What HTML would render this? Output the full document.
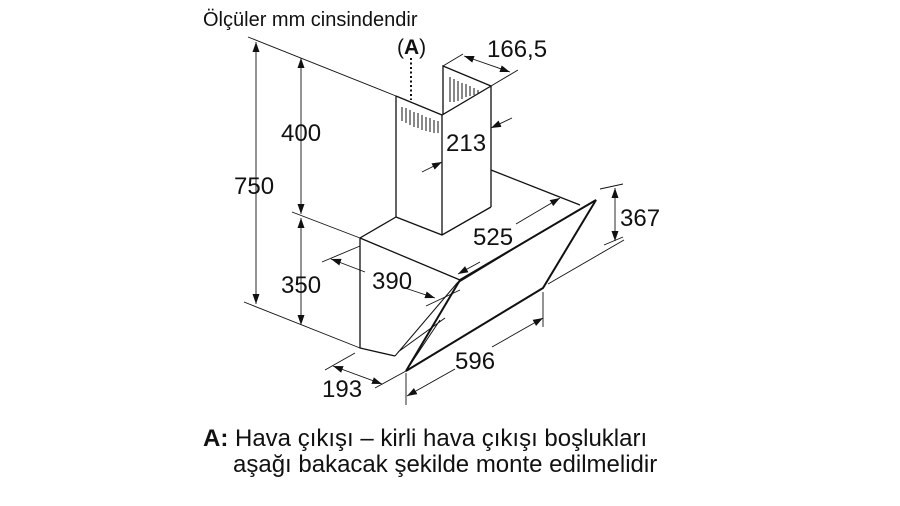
<!DOCTYPE html>
<html><head><meta charset="utf-8"><style>
html,body{margin:0;padding:0;background:#fff;width:900px;height:506px;overflow:hidden}
svg{display:block}
text{font-family:"Liberation Sans",Arial,sans-serif;fill:#111}
</style></head><body>
<svg width="900" height="506" viewBox="0 0 900 506" xmlns="http://www.w3.org/2000/svg">
<defs>
<marker id="a" viewBox="0 0 10 10" refX="10" refY="5" markerWidth="10" markerHeight="10" orient="auto-start-reverse" markerUnits="userSpaceOnUse"><path d="M0,1.5 L10,5 L0,8.5 z" fill="#111"/></marker>
</defs>
<text x="203" y="26" font-size="20">Ölçüler mm cinsindendir</text>

<g stroke="#111" fill="none" stroke-width="1.3">
<path d="M396,96 L396,217 M442,115 L442,235 M491,86 L491,207 M396,96 L442,115 L491,86 L443,66 L443,115 M396,217 L442,235 L491,207"/>
<path d="M396,217 L360,238 L360,348 L395,356 M360,238 L460,280 M491,170 L580,205"/>
<path d="M460,280 L596,200 L543,288 L406,371 Z" stroke-width="2"/>
<path d="M456,284 L578,210 M395,356 L458,282 M398,352 L445,318 M406,371 L440,320" stroke-width="1"/>
</g>
<g stroke="#111" stroke-width="1">
<path d="M402,107v14 M406,108v15 M410,110v15 M414,112v15 M418,113v15 M422,115v15 M426,117v14 M430,118v14 M434,120v13 M438,121v12"/>
<path d="M450,77v25 M454,79v23 M458,81v20 M462,83v16 M466,84v13 M470,86v10 M474,88v7 M478,90v4"/>
</g>
<path d="M411,58 L411,100" stroke="#111" stroke-width="2" stroke-dasharray="2,2.5"/>
<text x="397" y="54" font-size="21">(<tspan font-weight="bold">A</tspan>)</text>

<g stroke="#111" stroke-width="0.9" fill="none">
<path d="M248,37 L396,96 M292,212 L360,238 M244,302 L360,348"/>
<path d="M256,42 L256,304" marker-start="url(#a)" marker-end="url(#a)"/>
<path d="M301,58 L301,214" marker-start="url(#a)" marker-end="url(#a)"/>
<path d="M301,218 L301,325" marker-start="url(#a)" marker-end="url(#a)"/>
<path d="M443,66 L463,54 M491,86 L518,70"/>
<path d="M464,56 L510,72" marker-start="url(#a)" marker-end="url(#a)"/>
<path d="M491,128 L512,118" marker-start="url(#a)"/>
<path d="M442,162 L422,172" marker-start="url(#a)"/>
<path d="M322,262 L360,246 M426,306 L460,290"/>
<path d="M331,259 L365,272"/><path d="M405,288 L435,298" marker-end="url(#a)"/>
<path d="M331,259 L340,262" marker-start="url(#a)"/>
<path d="M458,274 L480,262" marker-start="url(#a)"/>
<path d="M516,224 L560,198" marker-end="url(#a)"/>
<path d="M600,189 L623,184 M604,245 L623,237 M548,284 L624,240"/>
<path d="M615,188 L615,241" marker-start="url(#a)" marker-end="url(#a)"/>
<path d="M406,373 L406,405 M543,292 L543,327"/>
<path d="M407,396 L455,369" marker-start="url(#a)"/>
<path d="M492,347 L543,318" marker-end="url(#a)"/>
<path d="M325,370 L355,353 M375,388 L406,371"/>
<path d="M333,366 L382,384" marker-start="url(#a)" marker-end="url(#a)"/>
</g>

<g font-size="24">
<text x="234" y="194">750</text>
<text x="281" y="141">400</text>
<text x="281" y="293">350</text>
<text x="487" y="57">166,5</text>
<text x="446" y="151">213</text>
<text x="473" y="245">525</text>
<text x="620" y="226">367</text>
<text x="372" y="289">390</text>
<text x="455" y="369">596</text>
<text x="322" y="397">193</text>
</g>

<text x="203" y="446" font-size="24"><tspan font-weight="bold">A:</tspan> Hava çıkışı – kirli hava çıkışı boşlukları</text>
<text x="233" y="472" font-size="24">aşağı bakacak şekilde monte edilmelidir</text>
</svg>
</body></html>
